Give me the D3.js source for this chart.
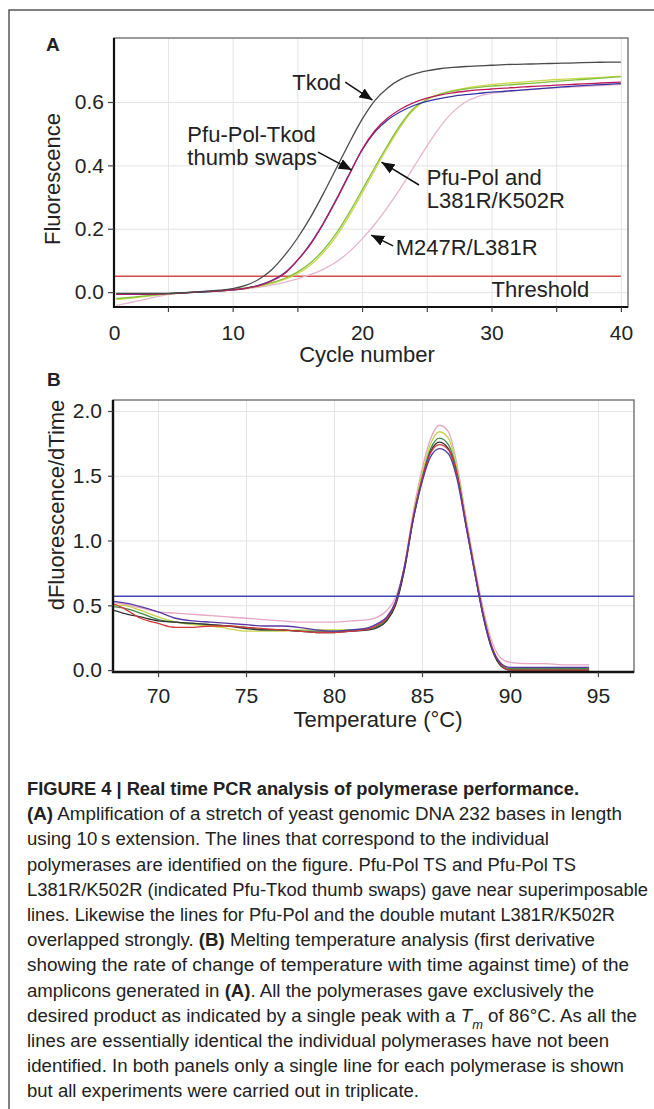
<!DOCTYPE html>
<html lang="en">
<head>
<meta charset="UTF-8">
<title>Figure 4 - Real time PCR</title>
<style>
  body { margin: 0; background: #fff; }
  svg text { font-family: "Liberation Sans", Arial, Helvetica, sans-serif; fill: #222; }
  .grid line { stroke: #e4e4e4; stroke-width: 1; }
  .grid path { display: none; }
  .axis path { display: none; }
  .axis line { stroke: #444; stroke-width: 1.2; }
  .curve { fill: none; stroke-width: 1.3; }
</style>
<script src="https://cdnjs.cloudflare.com/ajax/libs/d3/7.8.5/d3.min.js"></script>
</head>
<body>
<script>
// ---- Panel A: amplification curves (fluorescence vs cycle) ----
const cycles = [1,2,3,4,5,6,7,8,9,10,11,12,13,14,15,16,17,18,19,20,
                21,22,23,24,25,26,27,28,29,30,31,32,33,34,35,36,37,38,39,40];
const tkod = [-0.004,-0.004,-0.004,-0.004,-0.004,-0.002,0.000,0.003,0.006,0.011,
              0.021,0.040,0.070,0.115,0.170,0.235,0.310,0.390,0.470,0.545,
              0.605,0.645,0.672,0.688,0.698,0.705,0.709,0.712,0.714,0.716,
              0.718,0.719,0.720,0.721,0.722,0.723,0.724,0.725,0.726,0.726];
const thumbSwap1 = [-0.006,-0.006,-0.006,-0.006,-0.005,-0.003,0.000,0.002,0.004,0.007,
                    0.012,0.020,0.035,0.058,0.100,0.150,0.215,0.290,0.370,0.450,
                    0.510,0.550,0.578,0.598,0.612,0.622,0.629,0.634,0.638,0.641,
                    0.644,0.646,0.649,0.651,0.653,0.655,0.657,0.659,0.661,0.663];
const thumbSwap2 = [-0.007,-0.007,-0.007,-0.006,-0.005,-0.003,-0.001,0.001,0.004,0.007,
                    0.012,0.021,0.036,0.060,0.100,0.152,0.217,0.292,0.372,0.448,
                    0.506,0.544,0.570,0.589,0.602,0.611,0.618,0.623,0.627,0.631,
                    0.634,0.637,0.640,0.643,0.646,0.649,0.652,0.654,0.656,0.658];
const pfuPol = [-0.020,-0.017,-0.013,-0.009,-0.005,-0.002,0.000,0.001,0.004,0.008,
                0.013,0.020,0.030,0.043,0.063,0.092,0.132,0.185,0.250,0.322,
                0.395,0.465,0.530,0.580,0.608,0.624,0.634,0.641,0.646,0.650,
                0.653,0.656,0.659,0.662,0.665,0.668,0.671,0.674,0.677,0.680];
const l381rK502r = [-0.024,-0.020,-0.015,-0.010,-0.006,-0.003,-0.001,0.001,0.003,0.007,
                    0.011,0.018,0.027,0.040,0.058,0.085,0.124,0.176,0.240,0.312,
                    0.386,0.458,0.524,0.576,0.607,0.625,0.636,0.644,0.650,0.655,
                    0.659,0.662,0.665,0.668,0.671,0.673,0.675,0.677,0.679,0.681];
const m247rL381r = [-0.042,-0.034,-0.025,-0.016,-0.008,-0.003,0.000,0.002,0.004,0.006,
                    0.010,0.015,0.022,0.031,0.042,0.055,0.072,0.095,0.127,0.168,
                    0.215,0.270,0.330,0.395,0.460,0.520,0.568,0.600,0.618,0.627,
                    0.632,0.636,0.639,0.642,0.645,0.647,0.649,0.651,0.653,0.655];
const thresholdA = 0.05;
const gridCyclesA = [5,10,15,20,25,30,35,40];
const yTicksA = [0, 0.2, 0.4, 0.6];
const xTickLabelsA = ["0","10","20","30","40"];

// ---- Panel B: melt curves (dF/dT vs temperature) ----
const temps = [67.5,68,69,70,71,72,73,74,75,76,77,78,79,80,81,82,82.5,83,83.5,84,
               84.5,85,85.5,86,86.5,87,87.5,88,88.5,89,89.5,90,91,92,93,94.5];
const meltPink   = [0.52,0.51,0.48,0.45,0.44,0.43,0.42,0.41,0.40,0.39,0.38,0.37,0.37,0.37,0.38,0.39,0.41,0.46,0.56,0.80,
                    1.22,1.55,1.79,1.89,1.84,1.58,1.18,0.80,0.46,0.21,0.09,0.06,0.05,0.05,0.04,0.04];
const meltYellow = [0.50,0.50,0.46,0.41,0.37,0.35,0.34,0.32,0.30,0.30,0.30,0.31,0.31,0.31,0.31,0.32,0.34,0.40,0.52,0.79,
                    1.19,1.51,1.75,1.84,1.79,1.55,1.15,0.77,0.42,0.17,0.05,0.01,0.00,0.00,0.00,0.00];
const meltGreen  = [0.49,0.48,0.44,0.39,0.37,0.36,0.35,0.34,0.33,0.31,0.31,0.30,0.30,0.30,0.31,0.32,0.34,0.39,0.51,0.78,
                    1.17,1.48,1.71,1.79,1.74,1.52,1.13,0.76,0.41,0.16,0.04,0.01,0.01,0.01,0.01,0.01];
const meltBlack  = [0.46,0.44,0.41,0.38,0.37,0.36,0.35,0.34,0.32,0.31,0.31,0.30,0.29,0.29,0.30,0.31,0.33,0.38,0.50,0.77,
                    1.16,1.46,1.69,1.76,1.71,1.50,1.12,0.75,0.40,0.15,0.03,0.00,0.00,0.00,0.00,0.00];
const meltRed    = [0.51,0.48,0.40,0.36,0.33,0.33,0.34,0.34,0.33,0.32,0.31,0.30,0.29,0.29,0.30,0.32,0.35,0.40,0.52,0.80,
                    1.18,1.47,1.68,1.74,1.70,1.50,1.13,0.77,0.42,0.17,0.04,0.00,0.00,0.00,0.00,0.00];
const meltBlue   = [0.53,0.52,0.49,0.45,0.40,0.38,0.37,0.36,0.35,0.34,0.34,0.33,0.31,0.30,0.31,0.33,0.36,0.41,0.53,0.79,
                    1.16,1.45,1.65,1.71,1.67,1.47,1.11,0.75,0.41,0.16,0.05,0.02,0.02,0.02,0.02,0.02];
const thresholdB = 0.57;
const tempTicks = [70,75,80,85,90,95];
const yTicksB = [0, 0.5, 1.0, 1.5, 2.0];

const captionLines = [
  [["FIGURE 4 | Real time PCR analysis of polymerase performance.", "b"]],
  [["(A)", "b"], [" Amplification of a stretch of yeast genomic DNA 232 bases in length", ""]],
  [["using 10\u2009s extension. The lines that correspond to the individual", ""]],
  [["polymerases are identified on the figure. Pfu-Pol TS and Pfu-Pol TS", ""]],
  [["L381R/K502R (indicated Pfu-Tkod thumb swaps) gave near superimposable", ""]],
  [["lines. Likewise the lines for Pfu-Pol and the double mutant L381R/K502R", ""]],
  [["overlapped strongly. ", ""], ["(B)", "b"], [" Melting temperature analysis (first derivative", ""]],
  [["showing the rate of change of temperature with time against time) of the", ""]],
  [["amplicons generated in ", ""], ["(A)", "b"], [". All the polymerases gave exclusively the", ""]],
  [["desired product as indicated by a single peak with a ", ""], ["T", "i"], ["m", "sub"], [" of 86\u00b0C. As all the", ""]],
  [["lines are essentially identical the individual polymerases have not been", ""]],
  [["identified. In both panels only a single line for each polymerase is shown", ""]],
  [["but all experiments were carried out in triplicate.", ""]]
];
const captionWidths = [552,595,522,549,621,588,568,602,567,610,582,597,392];

const svg = d3.select("body").append("svg")
    .attr("width", 654).attr("height", 1109);

// outer figure frame
svg.append("path")
    .attr("d", "M9,1109 V10 H654")
    .attr("fill", "none").attr("stroke", "#555").attr("stroke-width", 1.5);

svg.append("defs").append("marker")
    .attr("id", "arrow")
    .attr("viewBox", "0 0 12 10")
    .attr("refX", 12).attr("refY", 5)
    .attr("markerWidth", 13).attr("markerHeight", 11)
    .attr("markerUnits", "userSpaceOnUse")
    .attr("orient", "auto")
  .append("path")
    .attr("d", "M0,0 L12,5 L0,10 Z")
    .attr("fill", "#111");

// ================= Panel A =================
const A = {left: 114, top: 38, right: 628, bottom: 307};
const xA = d3.scaleLinear().domain([0.83, 40.55]).range([A.left, A.right]);
const yA = d3.scaleLinear().domain([-0.047, 0.802]).range([A.bottom, A.top]);

svg.append("g").attr("class", "grid")
    .attr("transform", `translate(0,${A.bottom})`)
    .call(d3.axisBottom(xA).tickValues(gridCyclesA).tickSize(-(A.bottom - A.top)).tickFormat(""));
svg.append("g").attr("class", "grid")
    .attr("transform", `translate(${A.left},0)`)
    .call(d3.axisLeft(yA).tickValues(yTicksA).tickSize(-(A.right - A.left)).tickFormat(""));

svg.append("line")
    .attr("x1", xA(xA.domain()[0])).attr("x2", xA(40))
    .attr("y1", yA(thresholdA)).attr("y2", yA(thresholdA))
    .attr("stroke", "#d84a4a").attr("stroke-width", 1.3);

const lineA = (vals) => d3.line()
    .x((d, i) => xA(cycles[i]))
    .y(d => yA(d))
    .curve(d3.curveMonotoneX)(vals);

const seriesA = [
  {v: m247rL381r, c: "#e6b6cc"},
  {v: l381rK502r, c: "#cdd84c"},
  {v: pfuPol,     c: "#84bf3e"},
  {v: thumbSwap2, c: "#3535a5"},
  {v: thumbSwap1, c: "#bb1d5c"},
  {v: tkod,       c: "#4a4a4a"}
];
svg.append("g").selectAll("path").data(seriesA).join("path")
    .attr("class", "curve")
    .attr("d", d => lineA(d.v))
    .attr("stroke", d => d.c);

// plot frame
svg.append("rect")
    .attr("x", A.left).attr("y", A.top)
    .attr("width", A.right - A.left).attr("height", A.bottom - A.top)
    .attr("fill", "none").attr("stroke", "#666").attr("stroke-width", 1.3);
svg.append("path")
    .attr("d", `M${A.left},${A.top} V${A.bottom} H${A.right}`)
    .attr("fill", "none").attr("stroke", "#111").attr("stroke-width", 2.2);

// axes
svg.append("g").attr("class", "axis")
    .attr("transform", `translate(0,${A.bottom})`)
    .call(d3.axisBottom(xA).tickValues(gridCyclesA).tickSize(5).tickFormat(""));
svg.append("g").attr("class", "axis")
    .attr("transform", `translate(0,${A.bottom})`)
    .call(d3.axisBottom(xA).tickValues([xA.domain()[0], 10, 20, 30, 40])
          .tickFormat((d, i) => xTickLabelsA[i]).tickSize(0).tickPadding(18))
    .attr("font-size", 21).attr("font-family", null);
svg.append("g").attr("class", "axis")
    .attr("transform", `translate(${A.left},0)`)
    .call(d3.axisLeft(yA).tickValues(yTicksA).tickFormat(d3.format(".1f")).tickSize(6).tickPadding(4))
    .attr("font-size", 21).attr("font-family", null);

svg.append("text").attr("x", (A.left + A.right) / 2 - 4).attr("y", 362)
    .attr("text-anchor", "middle").attr("font-size", 22).text("Cycle number");
svg.append("text").attr("transform", `translate(60,179) rotate(-90)`)
    .attr("text-anchor", "middle").attr("font-size", 22).text("Fluorescence");
svg.append("text").attr("x", 46).attr("y", 51)
    .attr("font-size", 19).attr("font-weight", "bold").text("A");

// annotations (in data units)
const notesA = [
  {lines: ["Tkod"], at: [14.6, 0.638], from: [18.7, 0.663], to: [20.8, 0.606]},
  {lines: ["Pfu-Pol-Tkod", "thumb swaps"], at: [6.5, 0.474], from: [16.6, 0.442], to: [19.2, 0.385]},
  {lines: ["Pfu-Pol and", "L381R/K502R"], at: [25.0, 0.338], from: [24.4, 0.338], to: [21.5, 0.41]},
  {lines: ["M247R/L381R"], at: [22.6, 0.117], from: [22.4, 0.146], to: [20.7, 0.18]}
];
notesA.forEach(n => {
  const t = svg.append("text").attr("x", xA(n.at[0])).attr("y", yA(n.at[1])).attr("font-size", 22);
  n.lines.forEach((s, i) => t.append("tspan").attr("x", xA(n.at[0])).attr("dy", i ? 23 : 0).text(s));
  svg.append("line")
      .attr("x1", xA(n.from[0])).attr("y1", yA(n.from[1]))
      .attr("x2", xA(n.to[0])).attr("y2", yA(n.to[1]))
      .attr("stroke", "#111").attr("stroke-width", 1.5)
      .attr("marker-end", "url(#arrow)");
});
svg.append("text").attr("x", xA(30.0)).attr("y", yA(-0.016))
    .attr("font-size", 22).text("Threshold");

// ================= Panel B =================
const B = {left: 113, top: 400, right: 634, bottom: 672};
const xB = d3.scaleLinear().domain([67.44, 97.05]).range([B.left, B.right]);
const yB = d3.scaleLinear().domain([-0.015, 2.085]).range([B.bottom, B.top]);

svg.append("g").attr("class", "grid")
    .attr("transform", `translate(0,${B.bottom})`)
    .call(d3.axisBottom(xB).tickValues(tempTicks).tickSize(-(B.bottom - B.top)).tickFormat(""));
svg.append("g").attr("class", "grid")
    .attr("transform", `translate(${B.left},0)`)
    .call(d3.axisLeft(yB).tickValues(yTicksB.slice(1)).tickSize(-(B.right - B.left)).tickFormat(""));

const lineB = (vals) => d3.line()
    .x((d, i) => xB(temps[i]))
    .y(d => yB(d))
    .curve(d3.curveMonotoneX)(vals);

const seriesB = [
  {v: meltPink,   c: "#e6a6c4"},
  {v: meltYellow, c: "#c6d24a"},
  {v: meltGreen,  c: "#3f8a4c"},
  {v: meltBlack,  c: "#333333"},
  {v: meltRed,    c: "#cf3a3a"},
  {v: meltBlue,   c: "#5a3aa2"}
];
svg.append("g").selectAll("path").data(seriesB).join("path")
    .attr("class", "curve")
    .attr("d", d => lineB(d.v))
    .attr("stroke", d => d.c);

svg.append("line")
    .attr("x1", B.left).attr("x2", B.right)
    .attr("y1", yB(thresholdB)).attr("y2", yB(thresholdB))
    .attr("stroke", "#4545b0").attr("stroke-width", 1.3);

svg.append("rect")
    .attr("x", B.left).attr("y", B.top)
    .attr("width", B.right - B.left).attr("height", B.bottom - B.top)
    .attr("fill", "none").attr("stroke", "#666").attr("stroke-width", 1.3);
svg.append("path")
    .attr("d", `M${B.left},${B.top} V${B.bottom} H${B.right}`)
    .attr("fill", "none").attr("stroke", "#111").attr("stroke-width", 2.4);

svg.append("g").attr("class", "axis")
    .attr("transform", `translate(0,${B.bottom})`)
    .call(d3.axisBottom(xB).tickValues(tempTicks).tickSize(5).tickPadding(11))
    .attr("font-size", 21).attr("font-family", null);
svg.append("g").attr("class", "axis")
    .attr("transform", `translate(${B.left},0)`)
    .call(d3.axisLeft(yB).tickValues(yTicksB).tickFormat(d3.format(".1f")).tickSize(5).tickPadding(6))
    .attr("font-size", 21).attr("font-family", null);

svg.append("text").attr("x", 378).attr("y", 727)
    .attr("text-anchor", "middle").attr("font-size", 22).text("Temperature (\u00b0C)");
svg.append("text").attr("transform", `translate(64,505) rotate(-90)`)
    .attr("text-anchor", "middle").attr("font-size", 22).text("dFluorescence/dTime");
svg.append("text").attr("x", 47).attr("y", 386)
    .attr("font-size", 19).attr("font-weight", "bold").text("B");

// ================= Caption =================
captionLines.forEach((segs, i) => {
  const t = svg.append("text")
      .attr("x", 27).attr("y", 795 + i * 25.2)
      .attr("font-size", 17.5)
      .attr("textLength", captionWidths[i])
      .attr("lengthAdjust", "spacingAndGlyphs");
  segs.forEach(([s, st]) => {
    const sp = t.append("tspan").text(s);
    if (st === "b") sp.attr("font-weight", "bold");
    if (st === "i") sp.attr("font-style", "italic");
    if (st === "sub") sp.attr("font-style", "italic").attr("font-size", 12).attr("baseline-shift", "sub");
  });
});
</script>
</body>
</html>
